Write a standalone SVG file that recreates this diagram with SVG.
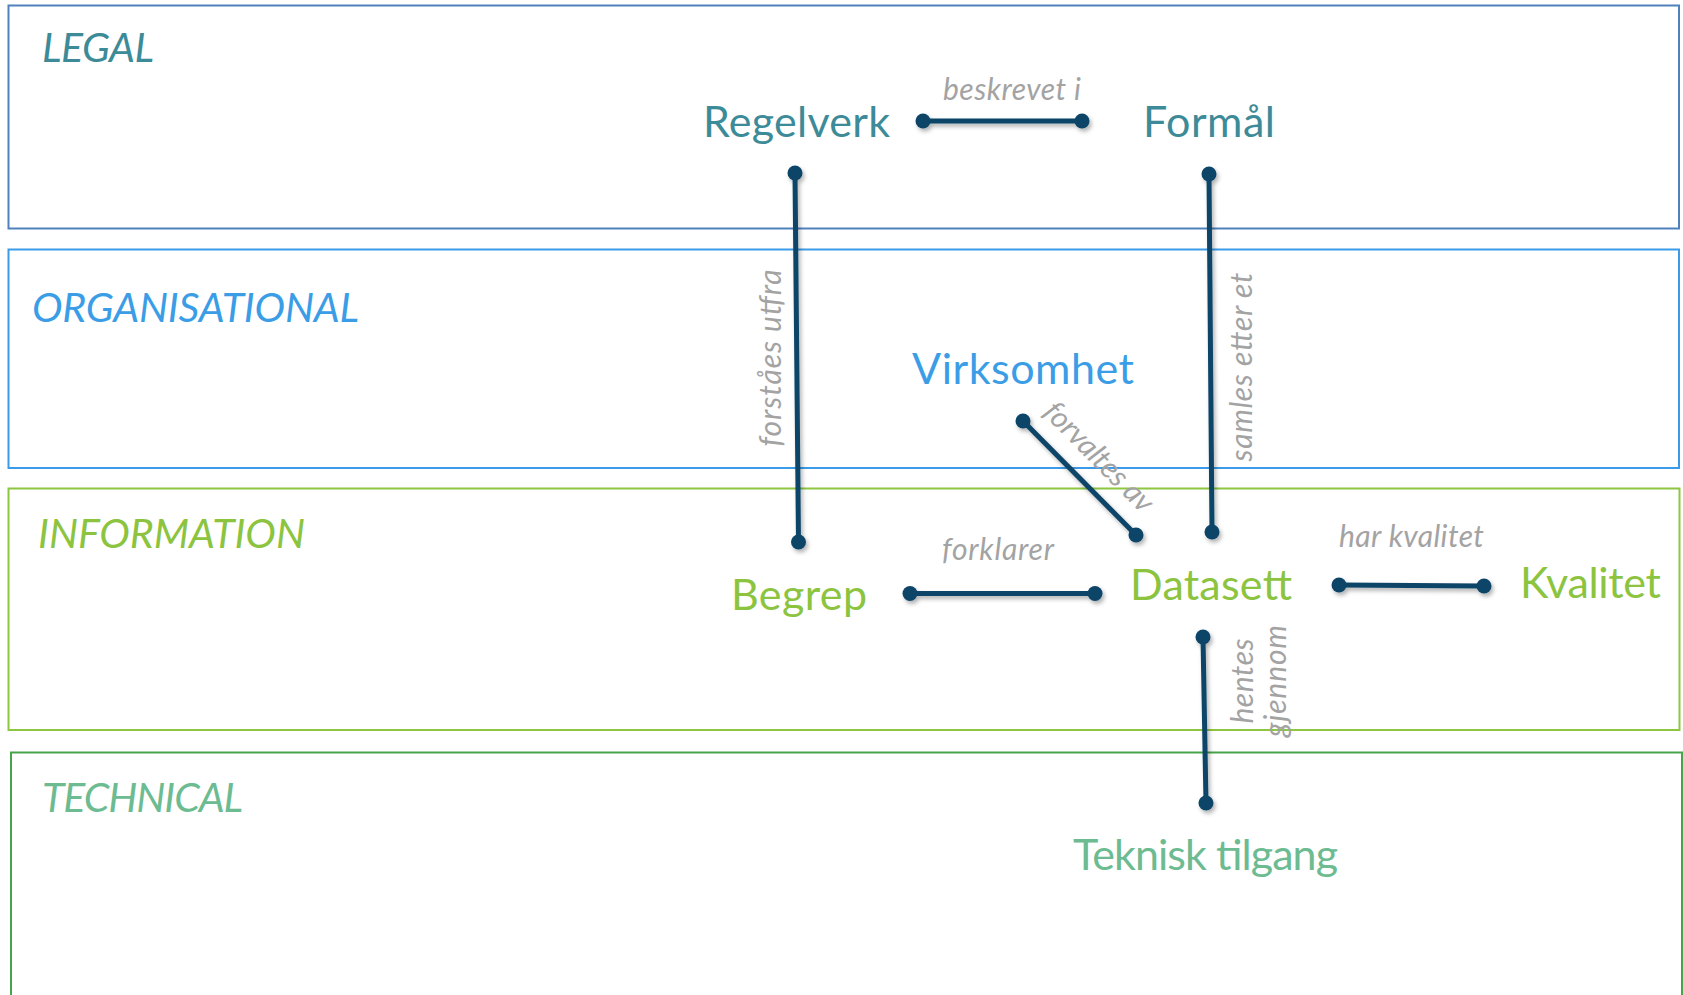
<svg xmlns="http://www.w3.org/2000/svg" width="1683" height="995" viewBox="0 0 1683 995">
<defs>
<filter id="sh" x="-20%" y="-20%" width="140%" height="140%">
<feDropShadow dx="2" dy="3" stdDeviation="2" flood-color="#000" flood-opacity="0.3"/>
</filter>
<style>
.layer{fill:#fff;stroke-width:2}
.lt{font-family:Lato,"Open Sans",sans-serif;font-style:italic;font-size:41px}
.nt{font-family:Lato,"Open Sans",sans-serif;font-size:43px}
.et{font-family:Lato,"Open Sans",sans-serif;font-style:italic;font-size:30px;fill:#a3a3a3}
.ln{stroke:#0d4567;stroke-width:5;stroke-linecap:round;fill:none}
.dot{fill:#0d4567}
.legal{fill:#3d8b98}
.org{fill:#3b9de6}
.info{fill:#8cc43f}
.tech{fill:#6cbb91}
</style>
</defs>
<rect width="1683" height="995" fill="#fff"/>
<g id="layer-legal">
<rect class="layer" x="8.5" y="5.5" width="1670.5" height="223" stroke="#4f81bd"/>
<text class="lt legal" x="42" y="62" textLength="112">LEGAL</text>
</g>
<g id="layer-organisational">
<rect class="layer" x="8.5" y="249.5" width="1670.5" height="218.5" stroke="#3b9be8"/>
<text class="lt org" x="32" y="322" textLength="327">ORGANISATIONAL</text>
</g>
<g id="layer-information">
<rect class="layer" x="8.5" y="488.5" width="1671" height="241.5" stroke="#8dc63f"/>
<text class="lt info" x="38" y="548" textLength="267">INFORMATION</text>
</g>
<g id="layer-technical">
<rect class="layer" x="11" y="752.5" width="1671" height="260" stroke="#48a448"/>
<text class="lt tech" x="42" y="812" textLength="201">TECHNICAL</text>
</g>
<g id="connectors">
<g filter="url(#sh)">
<line class="ln" x1="923" y1="121" x2="1082" y2="121"/>
<circle class="dot" cx="923" cy="121" r="7.5"/><circle class="dot" cx="1082" cy="121" r="7.5"/>
<line class="ln" x1="795" y1="173" x2="798.5" y2="542"/>
<circle class="dot" cx="795" cy="173" r="7.5"/><circle class="dot" cx="798.5" cy="542" r="7.5"/>
<line class="ln" x1="1209" y1="174" x2="1212" y2="532"/>
<circle class="dot" cx="1209" cy="174" r="7.5"/><circle class="dot" cx="1212" cy="532" r="7.5"/>
<line class="ln" x1="1023" y1="421" x2="1136" y2="535"/>
<circle class="dot" cx="1023" cy="421" r="7.5"/><circle class="dot" cx="1136" cy="535" r="7.5"/>
<line class="ln" x1="910" y1="593.5" x2="1095" y2="593.5"/>
<circle class="dot" cx="910" cy="593.5" r="7.5"/><circle class="dot" cx="1095" cy="593.5" r="7.5"/>
<line class="ln" x1="1339" y1="585" x2="1484" y2="586"/>
<circle class="dot" cx="1339" cy="585" r="7.5"/><circle class="dot" cx="1484" cy="586" r="7.5"/>
<line class="ln" x1="1203" y1="637" x2="1206" y2="803"/>
<circle class="dot" cx="1203" cy="637" r="7.5"/><circle class="dot" cx="1206" cy="803" r="7.5"/>
</g>
<text class="et" x="943" y="100" textLength="138">beskrevet i</text>
<text class="et" transform="translate(781,358) rotate(-90)" text-anchor="middle" textLength="177">forståes utfra</text>
<text class="et" transform="translate(1252,367) rotate(-90)" text-anchor="middle" textLength="189">samles etter et</text>
<text class="et" transform="translate(1092,464) rotate(45.3)" text-anchor="middle" textLength="142">forvaltes av</text>
<text class="et" x="942" y="560" textLength="112">forklarer</text>
<text class="et" x="1339" y="547" textLength="145">har kvalitet</text>
<text class="et" transform="translate(1253,681) rotate(-90)" text-anchor="middle" textLength="85">hentes</text>
<text class="et" transform="translate(1286,681) rotate(-90)" text-anchor="middle" textLength="112">gjennom</text>
</g>
<g id="node-regelverk"><text class="nt legal" x="703" y="137" textLength="187">Regelverk</text></g>
<g id="node-formal"><text class="nt legal" x="1143" y="137" textLength="132">Formål</text></g>
<g id="node-virksomhet"><text class="nt org" x="912" y="384" textLength="222">Virksomhet</text></g>
<g id="node-begrep"><text class="nt info" x="731" y="610" textLength="136">Begrep</text></g>
<g id="node-datasett"><text class="nt info" x="1130" y="600" textLength="162">Datasett</text></g>
<g id="node-kvalitet"><text class="nt info" x="1520" y="598" textLength="141">Kvalitet</text></g>
<g id="node-teknisk-tilgang"><text class="nt tech" x="1073" y="870" textLength="265">Teknisk tilgang</text></g>
</svg>
